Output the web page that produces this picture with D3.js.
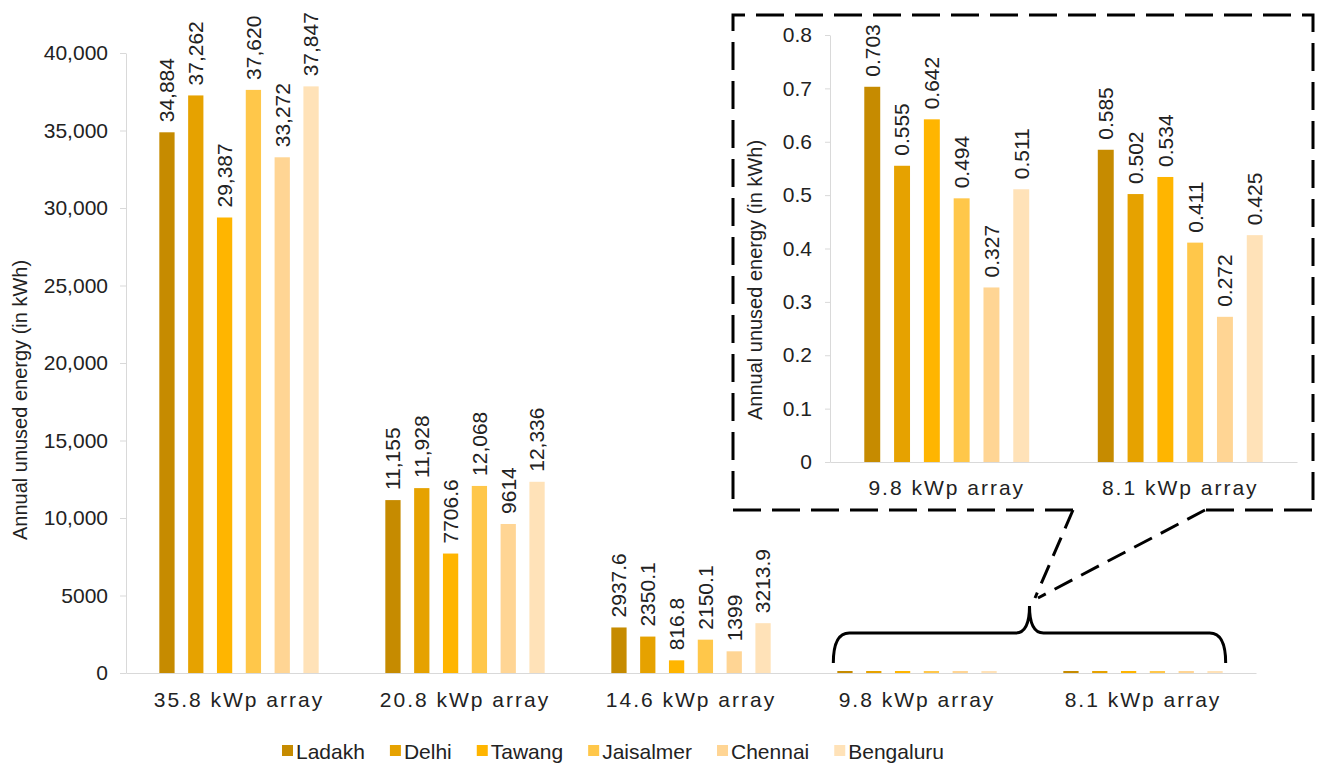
<!DOCTYPE html>
<html>
<head>
<meta charset="utf-8">
<script src="https://cdn.jsdelivr.net/npm/d3@7/dist/d3.min.js"></script>
<style>
  html, body { margin: 0; padding: 0; background: #fff; }
  svg { display: block; font-family: "Liberation Sans", Arial, sans-serif; }
</style>
</head>
<body>
<script>
// ---- data ----
const categories = ["35.8 kWp array", "20.8 kWp array", "14.6 kWp array", "9.8 kWp array", "8.1 kWp array"];
const insetCategories = ["9.8 kWp array", "8.1 kWp array"];
const cities = ["Ladakh", "Delhi", "Tawang", "Jaisalmer", "Chennai", "Bengaluru"];
const ladakh    = [34884, 11155, 2937.6, 0.703, 0.585];
const delhi     = [37262, 11928, 2350.1, 0.555, 0.502];
const tawang    = [29387, 7706.6, 816.8, 0.642, 0.534];
const jaisalmer = [37620, 12068, 2150.1, 0.494, 0.411];
const chennai   = [33272, 9614, 1399, 0.327, 0.272];
const bengaluru = [37847, 12336, 3213.9, 0.511, 0.425];
const mainTicks = [0, 5000, 10000, 15000, 20000, 25000, 30000, 35000, 40000];
const insetTicks = [0, 0.1, 0.2, 0.3, 0.4, 0.5, 0.6, 0.7, 0.8];
const labelledMain = ["35.8 kWp array", "20.8 kWp array", "14.6 kWp array"];
const colors = ["#C68B00", "#E6A200", "#FFB500", "#FFC74A", "#FFD594", "#FFE2B8"];

const seriesValues = [ladakh, delhi, tawang, jaisalmer, chennai, bengaluru];
const rows = [];
categories.forEach((c, ci) => cities.forEach((s, si) => rows.push({cat: c, city: s, value: seriesValues[si][ci]})));

const fmt = v => v >= 10000 ? d3.format(",")(v) : String(v);
const FONT = 21;
const TXT = "#222";
const AXIS = "#D9D9D9";

const svg = d3.select("body").append("svg").attr("width", 1317).attr("height", 767);

// ---- main chart ----
const x0 = d3.scaleBand().domain(categories).range([126, 1256]).paddingInner(0.175).paddingOuter(0.0875);
const x1 = d3.scaleBand().domain(cities).range([0, x0.bandwidth()]).padding(0.47);
const y = d3.scaleLinear().domain([0, 40000]).range([673, 53]);
const color = d3.scaleOrdinal().domain(cities).range(colors);

const gy = svg.append("g").attr("transform", "translate(126,0)")
  .call(d3.axisLeft(y).tickValues(mainTicks).tickFormat(fmt).tickSize(6).tickSizeOuter(0).tickPadding(12));
const gx = svg.append("g").attr("transform", "translate(0,673)")
  .call(d3.axisBottom(x0).tickSize(0).tickPadding(19));
[gy, gx].forEach(g => {
  g.select(".domain").attr("stroke", AXIS);
  g.selectAll(".tick line").attr("stroke", AXIS);
  g.selectAll("text").attr("font-size", FONT).attr("fill", TXT).attr("font-family", "Liberation Sans, Arial, sans-serif");
});
gx.selectAll("text").attr("letter-spacing", "2px");

svg.append("g").selectAll("rect").data(rows).join("rect")
  .attr("x", d => x0(d.cat) + x1(d.city))
  .attr("width", x1.bandwidth())
  .attr("y", d => Math.min(y(d.value), y(0) - 2))
  .attr("height", d => Math.max(y(0) - y(d.value), 2))
  .attr("fill", d => color(d.city));

svg.append("g").selectAll("text").data(rows.filter(d => labelledMain.includes(d.cat))).join("text")
  .attr("transform", d => `translate(${x0(d.cat) + x1(d.city) + x1.bandwidth() / 2},${y(d.value) - 10}) rotate(-90)`)
  .attr("dy", "0.35em")
  .attr("font-size", FONT).attr("fill", TXT)
  .text(d => fmt(d.value));

svg.append("text")
  .attr("transform", "translate(27,400) rotate(-90)")
  .attr("text-anchor", "middle").attr("font-size", 20).attr("fill", TXT)
  .text("Annual unused energy (in kWh)");

// ---- inset chart ----
const insetRows = rows.filter(d => insetCategories.includes(d.cat));
const ix0 = d3.scaleBand().domain(insetCategories).range([830, 1297]).paddingInner(0.175).paddingOuter(0.0875);
const ix1 = d3.scaleBand().domain(cities).range([0, ix0.bandwidth()]).padding(0.465);
const iy = d3.scaleLinear().domain([0, 0.8]).range([462, 35]);

const igy = svg.append("g").attr("transform", "translate(830,0)")
  .call(d3.axisLeft(iy).tickValues(insetTicks).tickFormat(d => String(+d.toFixed(1))).tickSize(5).tickSizeOuter(0).tickPadding(13));
const igx = svg.append("g").attr("transform", "translate(0,462)")
  .call(d3.axisBottom(ix0).tickSize(0).tickPadding(18));
[igy, igx].forEach(g => {
  g.select(".domain").attr("stroke", AXIS);
  g.selectAll(".tick line").attr("stroke", AXIS);
  g.selectAll("text").attr("font-size", FONT).attr("fill", TXT).attr("font-family", "Liberation Sans, Arial, sans-serif");
});
igx.selectAll("text").attr("letter-spacing", "2px");

svg.append("g").selectAll("rect").data(insetRows).join("rect")
  .attr("x", d => ix0(d.cat) + ix1(d.city))
  .attr("width", ix1.bandwidth())
  .attr("y", d => iy(d.value))
  .attr("height", d => iy(0) - iy(d.value))
  .attr("fill", d => color(d.city));

svg.append("g").selectAll("text").data(insetRows).join("text")
  .attr("transform", d => `translate(${ix0(d.cat) + ix1(d.city) + ix1.bandwidth() / 2},${iy(d.value) - 10}) rotate(-90)`)
  .attr("dy", "0.35em")
  .attr("font-size", FONT).attr("fill", TXT)
  .text(d => String(d.value));

svg.append("text")
  .attr("transform", "translate(762,280) rotate(-90)")
  .attr("text-anchor", "middle").attr("font-size", 20).attr("fill", TXT)
  .text("Annual unused energy (in kWh)");

// ---- inset frame, callout and bracket ----
const dash = "28,11";
svg.append("path")
  .attr("d", "M1073,510 L733,510 L733,15 L1313,15 L1313,510 L1205,510")
  .attr("fill", "none").attr("stroke", "#000").attr("stroke-width", 3).attr("stroke-dasharray", dash);
svg.append("path").attr("d", "M1073,510 L1035,598")
  .attr("fill", "none").attr("stroke", "#000").attr("stroke-width", 3).attr("stroke-dasharray", "20,10");
svg.append("path").attr("d", "M1205,510 L1038,598")
  .attr("fill", "none").attr("stroke", "#000").attr("stroke-width", 3).attr("stroke-dasharray", "20,10");

const bL = x0("9.8 kWp array") + x1(cities[0]) - 4;
const bR = x0("8.1 kWp array") + x1(cities[5]) + x1.bandwidth() + 3;
const bM = (bL + bR) / 2;
const bY = 633;
svg.append("path")
  .attr("d", `M${bL},${bY + 30} Q${bL},${bY} ${bL + 16},${bY} L${bM - 14},${bY} Q${bM},${bY} ${bM},${bY - 27} Q${bM},${bY} ${bM + 14},${bY} L${bR - 16},${bY} Q${bR},${bY} ${bR},${bY + 30}`)
  .attr("fill", "none").attr("stroke", "#000").attr("stroke-width", 3);

// ---- legend ----
const legend = svg.append("g");
const items = legend.selectAll("g").data(cities).join("g");
items.append("rect").attr("width", 11).attr("height", 11).attr("y", 745).attr("fill", d => color(d));
items.append("text").attr("x", 14).attr("y", 759).attr("font-size", FONT).attr("fill", TXT).text(d => d);
let cx = 0;
const widths = [];
items.each(function() { widths.push(14 + this.querySelector("text").getComputedTextLength()); });
const gap = 25;
const total = d3.sum(widths) + gap * (widths.length - 1);
cx = 613 - total / 2;
items.attr("transform", (d, i) => { const t = `translate(${cx},0)`; cx += widths[i] + gap; return t; });
</script>
</body>
</html>
